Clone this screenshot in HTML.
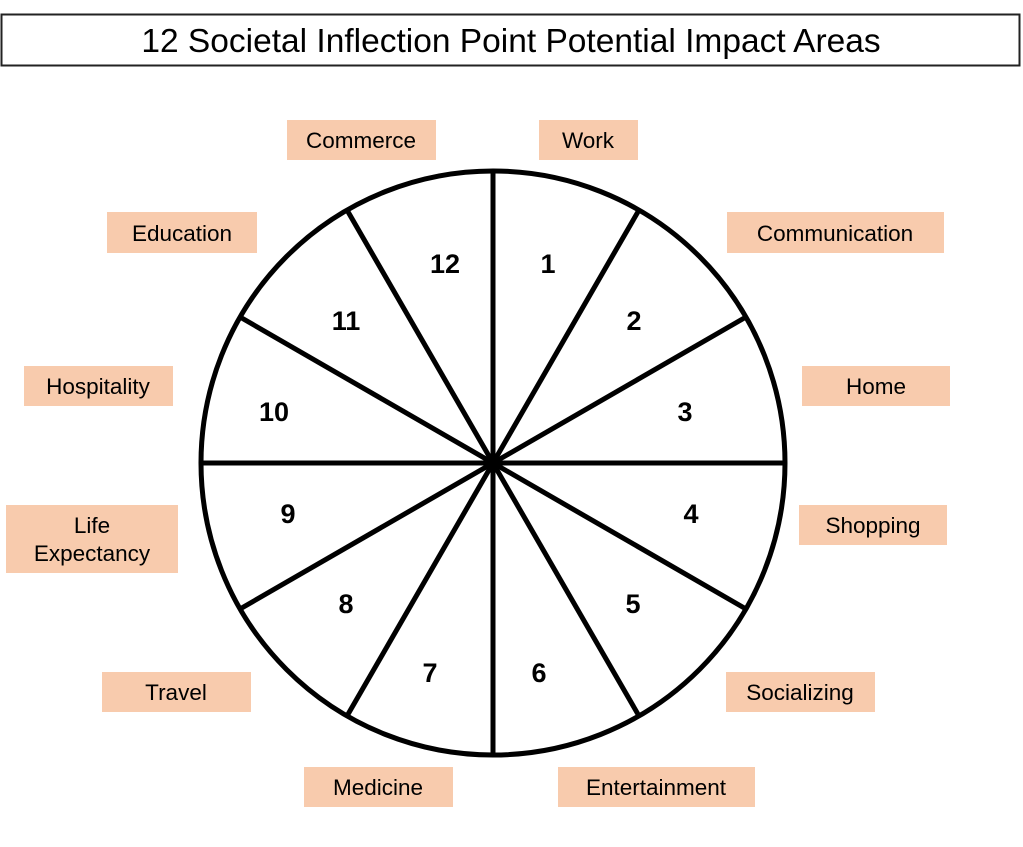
<!DOCTYPE html>
<html><head><meta charset="utf-8"><style>
html,body{margin:0;padding:0;background:#fff;width:1023px;height:847px;overflow:hidden}
</style></head><body>
<svg width="1023" height="847" xmlns="http://www.w3.org/2000/svg" font-family="'Liberation Sans', sans-serif">
<rect x="1.5" y="14.5" width="1018" height="51" fill="#fff" stroke="#222" stroke-width="2"/>
<text x="511" y="52" font-size="33.5" text-anchor="middle" fill="#000">12 Societal Inflection Point Potential Impact Areas</text>
<g fill="#f8cbad">
<rect x="287" y="120" width="149" height="40"/>
<rect x="539" y="120" width="99" height="40"/>
<rect x="107" y="212" width="150" height="41"/>
<rect x="727" y="212" width="217" height="41"/>
<rect x="24" y="366" width="149" height="40"/>
<rect x="802" y="366" width="148" height="40"/>
<rect x="6" y="505" width="172" height="68"/>
<rect x="799" y="505" width="148" height="40"/>
<rect x="102" y="672" width="149" height="40"/>
<rect x="726" y="672" width="149" height="40"/>
<rect x="304" y="767" width="149" height="40"/>
<rect x="558" y="767" width="197" height="40"/>
</g>
<g font-size="22.5" text-anchor="middle" fill="#000">
<text x="361" y="148">Commerce</text>
<text x="588" y="148">Work</text>
<text x="182" y="241">Education</text>
<text x="835" y="241">Communication</text>
<text x="98" y="394">Hospitality</text>
<text x="876" y="394">Home</text>
<text x="92" y="533">Life</text>
<text x="92" y="561">Expectancy</text>
<text x="873" y="533">Shopping</text>
<text x="176" y="700">Travel</text>
<text x="800" y="700">Socializing</text>
<text x="378" y="795">Medicine</text>
<text x="656" y="795">Entertainment</text>
</g>
<circle cx="493" cy="463" r="292" fill="#fff" stroke="#000" stroke-width="5"/>
<g stroke="#000" stroke-width="5">
<line x1="493" y1="171" x2="493" y2="755"/>
<line x1="347" y1="210" x2="639" y2="716"/>
<line x1="240" y1="317" x2="746" y2="609"/>
<line x1="201" y1="463" x2="785" y2="463"/>
<line x1="240" y1="609" x2="746" y2="317"/>
<line x1="347" y1="716" x2="639" y2="210"/>
</g>
<circle cx="493" cy="463" r="8" fill="#000"/>
<g font-size="27" font-weight="bold" text-anchor="middle" fill="#000">
<text x="548" y="273">1</text>
<text x="634" y="330">2</text>
<text x="685" y="421">3</text>
<text x="691" y="523">4</text>
<text x="633" y="613">5</text>
<text x="539" y="682">6</text>
<text x="430" y="682">7</text>
<text x="346" y="613">8</text>
<text x="288" y="523">9</text>
<text x="274" y="421">10</text>
<text x="346" y="330">11</text>
<text x="445" y="273">12</text>
</g>
</svg>
</body></html>
